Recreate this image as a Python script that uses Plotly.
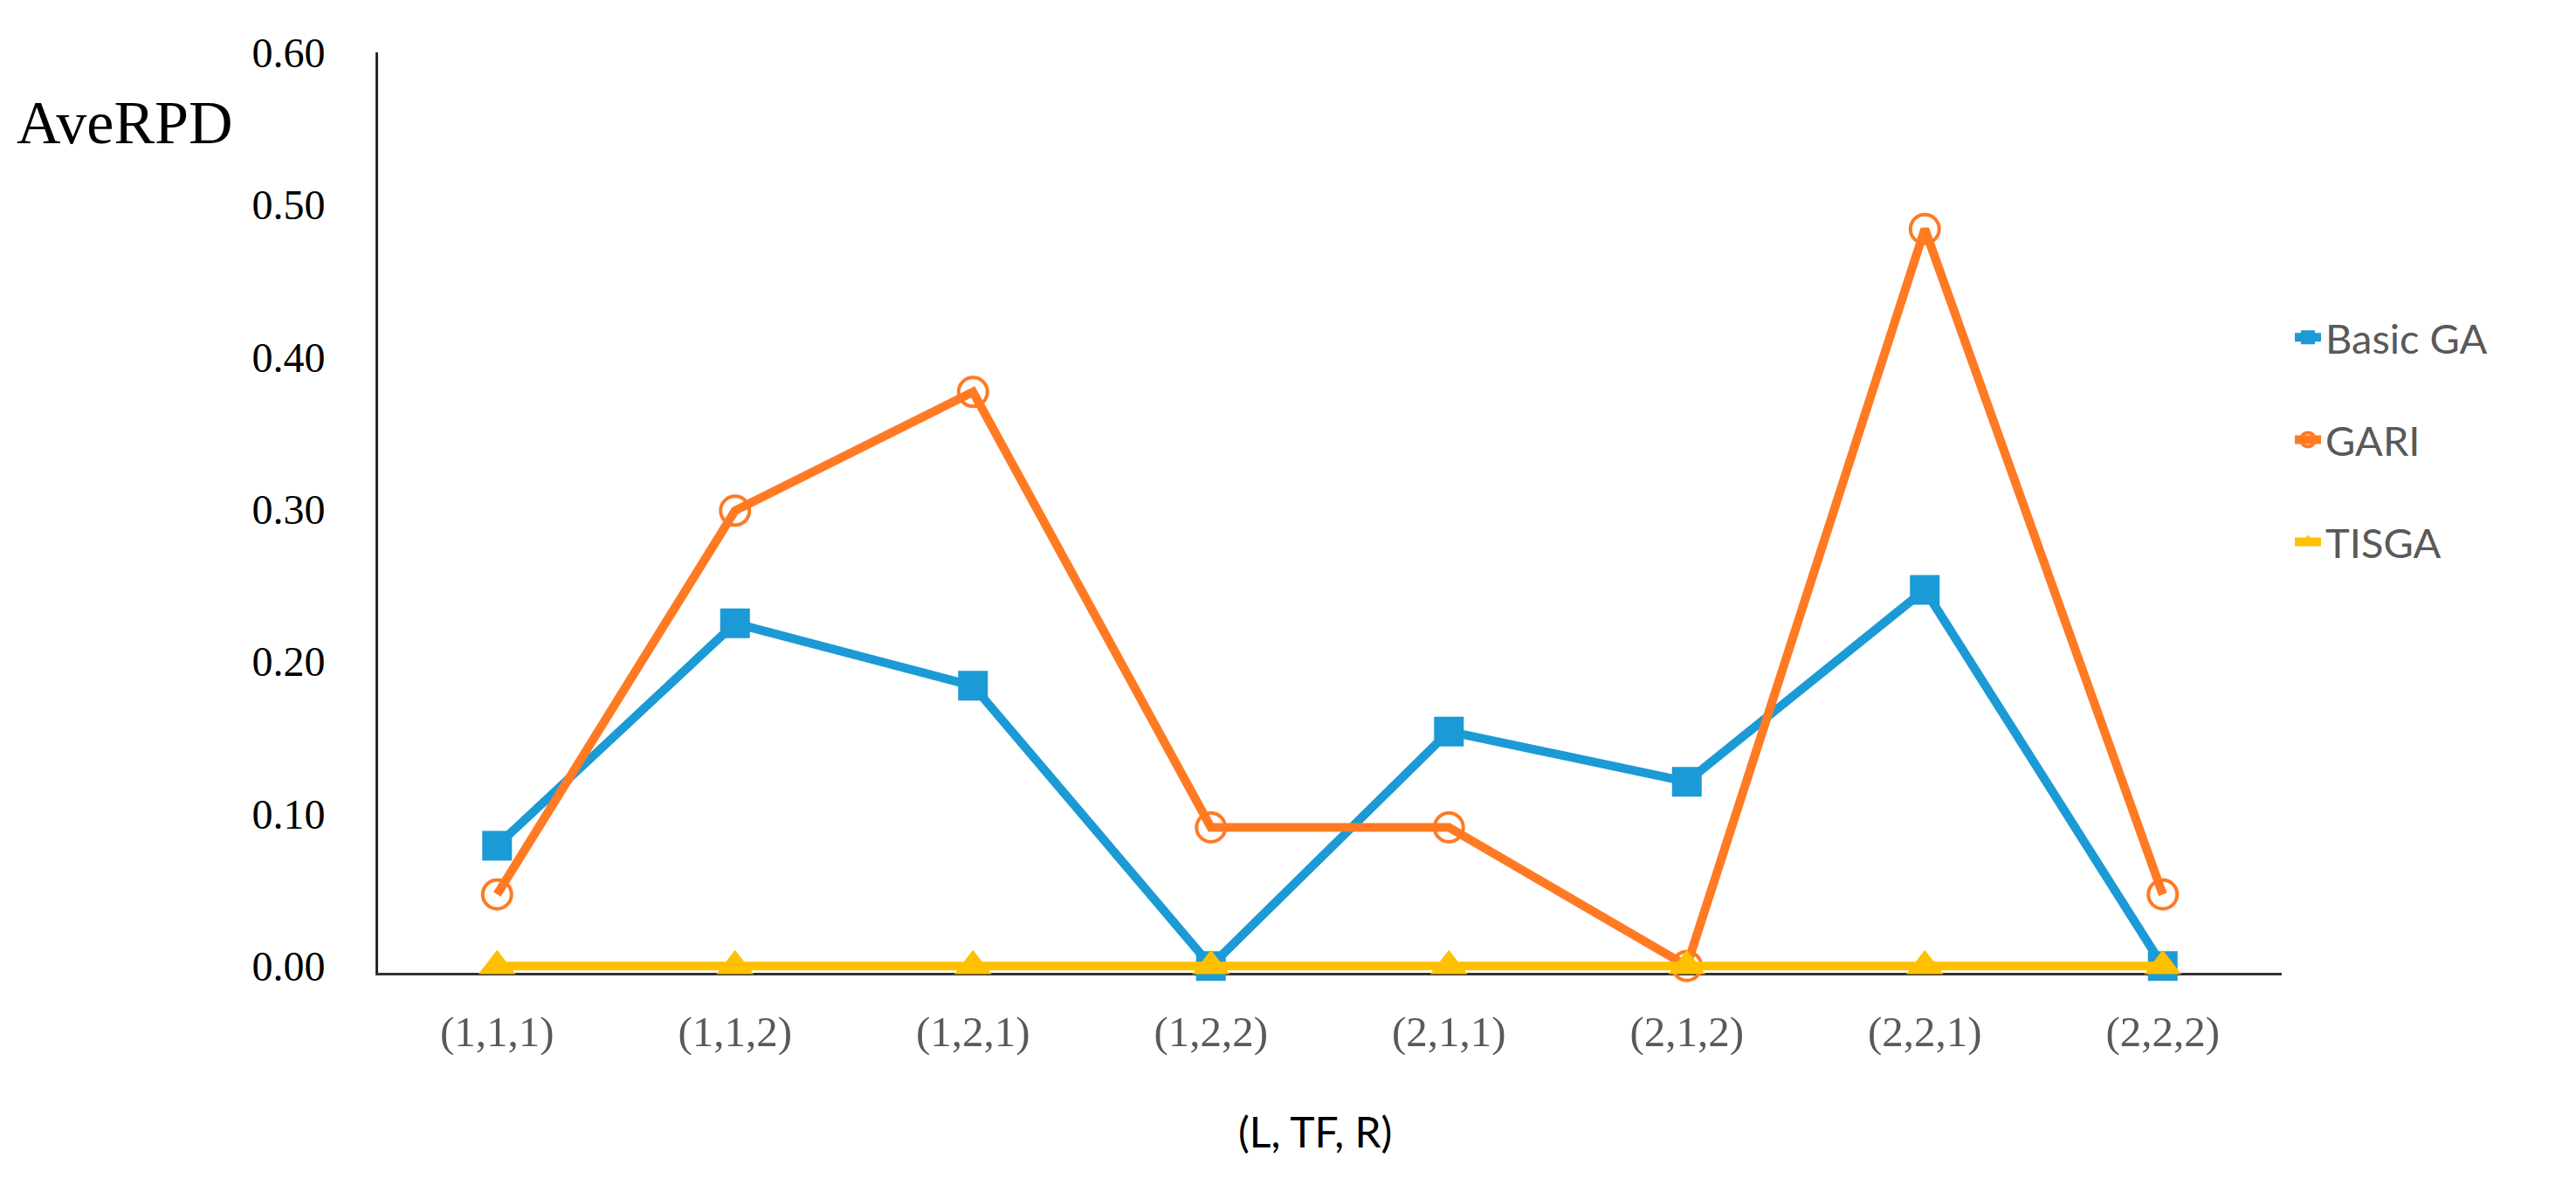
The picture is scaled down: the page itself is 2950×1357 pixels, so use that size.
import plotly.graph_objs as go

categories = ["(1,1,1)", "(1,1,2)", "(1,2,1)", "(1,2,2)", "(2,1,1)", "(2,1,2)", "(2,2,1)", "(2,2,2)"]
basic_ga = [0.079, 0.225, 0.184, 0.0, 0.154, 0.121, 0.247, 0.0]
gari = [0.047, 0.299, 0.377, 0.091, 0.091, 0.0, 0.484, 0.047]
tisga = [0.0, 0.0, 0.0, 0.0, 0.0, 0.0, 0.0, 0.0]
y_ticks = [0.0, 0.1, 0.2, 0.3, 0.4, 0.5, 0.6]

fig = go.Figure()

fig.add_trace(go.Scatter(
    x = categories, y = basic_ga, name = "Basic GA", legendgroup = "a",
    mode = "lines+markers", cliponaxis = False,
    line = dict(color = "#1B9AD6", width = 10),
    marker = dict(symbol = "square", size = 34, color = "#1B9AD6")
))
fig.add_trace(go.Scatter(
    x = categories, y = gari, name = "GARI", legendgroup = "b",
    mode = "lines+markers", cliponaxis = False,
    line = dict(color = "#FF7A22", width = 10),
    marker = dict(symbol = "circle-open", size = 33, color = "#FF7A22",
                  line = dict(color = "#FF7A22", width = 4))
))
fig.add_trace(go.Scatter(
    x = categories, y = tisga, name = "TISGA", legendgroup = "c",
    mode = "lines+markers", cliponaxis = False,
    line = dict(color = "#FFC000", width = 10),
    marker = dict(symbol = "triangle-up", size = 37, color = "#FFC000")
))

fig.update_layout(
    width = 2950, height = 1357,
    margin = dict(l = 425, r = 345, t = 52, b = 251),
    plot_bgcolor = "white", paper_bgcolor = "white",
    showlegend = True,
    legend = dict(
        x = 1.0046, y = 0.579, xanchor = "left", yanchor = "middle",
        font = dict(family = "Lato", size = 47, color = "#595959"),
        traceorder = "grouped", tracegroupgap = 53,
        bgcolor = "rgba(0,0,0,0)"
    ),
    xaxis = dict(
        type = "category", range = [-0.5, 7.5],
        showline = True, linecolor = "#333333", linewidth = 3,
        showgrid = False, zeroline = False, ticks = "",
        layer = "below traces",
        tickfont = dict(family = "Liberation Serif", size = 49, color = "#595959"),
        ticklabelstandoff = 22
    ),
    yaxis = dict(
        range = [-0.0045, 0.6], tickvals = y_ticks, tickformat = ".2f",
        showline = True, linecolor = "#262626", linewidth = 3,
        showgrid = False, zeroline = False, ticks = "",
        layer = "below traces",
        tickfont = dict(family = "Liberation Serif", size = 48, color = "black"),
        ticklabelstandoff = 48
    ),
    annotations = [
        dict(text = "AveRPD", xref = "paper", yref = "paper", x = -0.191, y = 0.924,
             xanchor = "left", yanchor = "middle", showarrow = False,
             font = dict(family = "Liberation Serif", size = 70, color = "black")),
        dict(text = "(L, TF, R)", xref = "paper", yref = "paper", x = 0.492, y = -0.172,
             xanchor = "center", yanchor = "middle", showarrow = False,
             font = dict(family = "Lato", size = 48, color = "black")),
    ]
)

fig.write_html("out.html")
